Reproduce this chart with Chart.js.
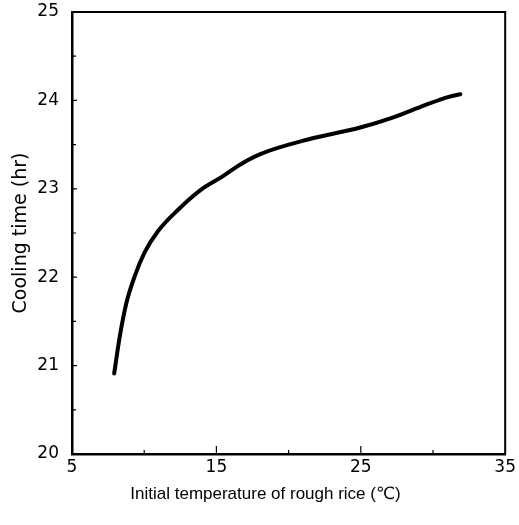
<!DOCTYPE html>
<html>
<head>
<meta charset="utf-8">
<script src="https://cdn.jsdelivr.net/npm/chart.js@4.4.1/dist/chart.umd.min.js"></script>
<style>
  html, body { margin: 0; padding: 0; background: #fff; }
</style>
</head>
<body>
<canvas id="coolingChart" width="519" height="525"></canvas>
<script>
// Cooling time vs. initial temperature of rough rice
const riceTemps = [7.92, 8.31, 8.77, 9.34, 10.03, 10.95, 12.33, 13.94, 15.43, 16.6, 18.0, 21.4, 24.9, 27.1, 29.5, 31.1, 31.9];
const coolingHours = [20.91, 21.33, 21.71, 22.01, 22.28, 22.52, 22.76, 22.99, 23.14, 23.27, 23.39, 23.56, 23.69, 23.80, 23.95, 24.04, 24.07];

const xTicks = [5, 15, 25, 35];
const xMinorTicks = [10, 20, 30];
const yTicks = [20, 21, 22, 23, 24, 25];
const yMinorTicks = [20.5, 21.5, 22.5, 23.5, 24.5];

// top/right frame + inward tick marks
const framePlugin = {
  id: 'frame',
  afterDatasetsDraw(chart) {
    const { ctx, chartArea: a, scales: { x, y } } = chart;
    ctx.save();
    ctx.strokeStyle = '#000';
    ctx.lineWidth = 2;
    ctx.beginPath();
    ctx.moveTo(a.left, a.top);
    ctx.lineTo(a.right, a.top);
    ctx.lineTo(a.right, a.bottom);
    ctx.stroke();

    ctx.lineWidth = 1.2;
    ctx.beginPath();
    yTicks.forEach(v => {
      const py = y.getPixelForValue(v);
      ctx.moveTo(a.left, py);
      ctx.lineTo(a.left + 5, py);
    });
    yMinorTicks.forEach(v => {
      const py = y.getPixelForValue(v);
      ctx.moveTo(a.left, py);
      ctx.lineTo(a.left + 4, py);
    });
    xTicks.slice(1, -1).forEach(v => {
      const px = x.getPixelForValue(v);
      ctx.moveTo(px, a.bottom);
      ctx.lineTo(px, a.bottom - 8);
    });
    xMinorTicks.forEach(v => {
      const px = x.getPixelForValue(v);
      ctx.moveTo(px, a.bottom);
      ctx.lineTo(px, a.bottom - 4);
    });
    ctx.stroke();
    ctx.restore();
  }
};

const tickFont = { family: "'DejaVu Sans', sans-serif", size: 17 };

new Chart(document.getElementById('coolingChart').getContext('2d'), {
  type: 'line',
  data: {
    datasets: [{
      data: riceTemps.map((t, i) => ({ x: t, y: coolingHours[i] })),
      borderColor: '#000',
      borderWidth: 4,
      borderCapStyle: 'round',
      cubicInterpolationMode: 'monotone',
      pointRadius: 0,
      fill: false
    }]
  },
  options: {
    responsive: false,
    animation: false,
    layout: { padding: { left: 12, right: 0, top: 12, bottom: 0 } },
    plugins: {
      legend: { display: false },
      tooltip: { enabled: false },
      title: {
        display: true,
        position: 'bottom',
        text: 'Initial temperature of rough rice (℃)',
        color: '#000',
        font: { family: "'Liberation Sans', 'DejaVu Sans', sans-serif", size: 17, weight: 'normal', lineHeight: 1.2 },
        padding: { top: 4, bottom: 20 }
      }
    },
    scales: {
      x: {
        type: 'linear',
        min: 5,
        max: 35,
        afterBuildTicks: scale => { scale.ticks = xTicks.map(v => ({ value: v })); },
        afterFit: scale => { scale.height = 26.6; },
        grid: { display: true, drawOnChartArea: false, drawTicks: false },
        border: { color: '#000', width: 2.5 },
        ticks: { color: '#000', font: tickFont, padding: 3, maxRotation: 0 }
      },
      y: {
        min: 20,
        max: 25,
        afterBuildTicks: scale => { scale.ticks = yTicks.map(v => ({ value: v })); },
        afterFit: scale => {
          scale.width = 60;
          scale.paddingTop = 0;
          scale.paddingBottom = 0;
        },
        grid: { display: true, drawOnChartArea: false, drawTicks: false },
        border: { color: '#000', width: 2.5 },
        ticks: { color: '#000', font: tickFont, padding: 13 },
        title: {
          display: true,
          text: 'Cooling time (hr)',
          color: '#000',
          font: { family: "'DejaVu Sans', sans-serif", size: 19, lineHeight: 1 },
          padding: { top: 0, bottom: 0 }
        }
      }
    }
  },
  plugins: [framePlugin]
});
</script>
</body>
</html>
